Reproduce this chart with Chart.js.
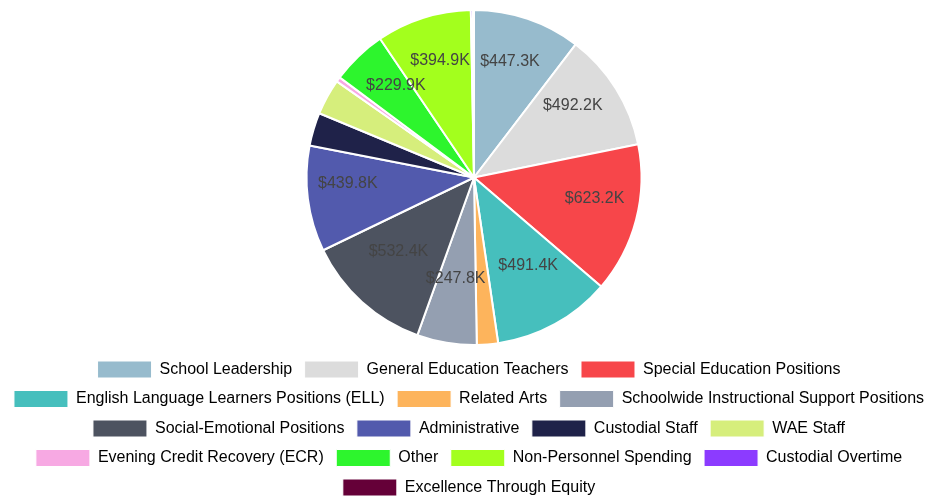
<!DOCTYPE html>
<html>
<head>
<meta charset="utf-8">
<script src="https://cdn.jsdelivr.net/npm/chart.js@4.4.1/dist/chart.umd.min.js"></script>
<style>
  html, body { margin: 0; padding: 0; background: #fff; overflow: hidden; }
  #wrap { width: 938px; height: 506px; }
</style>
</head>
<body>
<div id="wrap"><canvas id="c" width="938" height="506"></canvas></div>
<script>
// ---- data (values in $ thousands) ----
const categories = [
  "School Leadership",
  "General Education Teachers",
  "Special Education Positions",
  "English Language Learners Positions (ELL)",
  "Related Arts",
  "Schoolwide Instructional Support Positions",
  "Social-Emotional Positions",
  "Administrative",
  "Custodial Staff",
  "WAE Staff",
  "Evening Credit Recovery (ECR)",
  "Other",
  "Non-Personnel Spending",
  "Custodial Overtime",
  "Excellence Through Equity"
];
const values = [447.3, 492.2, 623.2, 491.4, 88, 247.8, 532.4, 439.8, 138, 149, 20, 229.9, 394.9, 9, 4];
const colors = [
  "#97BBCD", "#DCDCDC", "#F7464A", "#46BFBD", "#FDB45C",
  "#949FB1", "#4D5360", "#525AAD", "#1F2249", "#D6EE7C",
  "#F7A9E3", "#2DF52D", "#A3FF1D", "#8C3BFF", "#650038"
];

Chart.defaults.font.family = "'Liberation Sans', Arial, Helvetica, sans-serif";
Chart.defaults.color = "#666";

function hexToRgb(h) {
  const n = parseInt(h.slice(1), 16);
  return [(n >> 16) & 255, (n >> 8) & 255, n & 255];
}
function lighten(h, t) {
  const [r, g, b] = hexToRgb(h);
  const f = v => Math.round(v + (255 - v) * t);
  return `rgb(${f(r)},${f(g)},${f(b)})`;
}

const total = values.reduce((a, b) => a + b, 0);

// place the pie area (the legend keeps its own box)
const areaPlugin = {
  id: 'pieArea',
  afterLayout(chart) {
    const a = chart.chartArea;
    a.left += 10;
    a.top = 9;
    a.bottom = 346;
    a.width = a.right - a.left;
    a.height = a.bottom - a.top;
  }
};

const labelPlugin = {
  id: 'sliceLabels',
  afterDatasetsDraw(chart) {
    const ctx = chart.ctx;
    const meta = chart.getDatasetMeta(0);
    ctx.save();
    ctx.font = "16px 'Liberation Sans', Arial, sans-serif";
    ctx.fillStyle = "#444";
    ctx.textAlign = "center";
    ctx.textBaseline = "middle";
    meta.data.forEach((arc, i) => {
      const v = values[i];
      if (v / total < 0.04) return;
      const mid = (arc.startAngle + arc.endAngle) / 2;
      const s = Math.abs(Math.cos(mid));
      const r = arc.outerRadius * 0.67 + 16 * Math.pow(s, 8);
      const x = arc.x + Math.cos(mid) * r;
      const y = arc.y + Math.sin(mid) * r - 10;
      ctx.fillText('$' + v.toFixed(1) + 'K', x, y);
    });
    ctx.restore();
  }
};

new Chart(document.getElementById('c'), {
  type: 'pie',
  data: {
    labels: categories,
    datasets: [{
      data: values,
      backgroundColor(context) {
        const base = colors[context.dataIndex];
        const chart = context.chart;
        const meta = chart.getDatasetMeta(0);
        const arc = meta && meta.data[context.dataIndex];
        if (!arc || !arc.outerRadius || context.type !== 'data') return base;
        const g = chart.ctx.createRadialGradient(arc.x, arc.y, 0, arc.x, arc.y, arc.outerRadius);
        g.addColorStop(0, lighten(base, 0.3));
        g.addColorStop(1, base);
        return g;
      },
      borderColor: '#fff',
      borderWidth: 2
    }]
  },
  options: {
    responsive: false,
    animation: false,
    layout: { padding: { top: 10 } },
    plugins: {
      legend: {
        position: 'bottom',
        labels: {
          boxWidth: 54,
          boxHeight: 17,
          padding: 12.5,
          font: { size: 16 },
          color: '#666',
          generateLabels(chart) {
            return categories.map((c, i) => ({
              text: c,
              fillStyle: colors[i],
              strokeStyle: '#fff',
              lineWidth: 1,
              hidden: false,
              index: i
            }));
          }
        }
      },
      tooltip: { enabled: false }
    }
  },
  plugins: [areaPlugin, labelPlugin]
});
</script>
</body>
</html>
